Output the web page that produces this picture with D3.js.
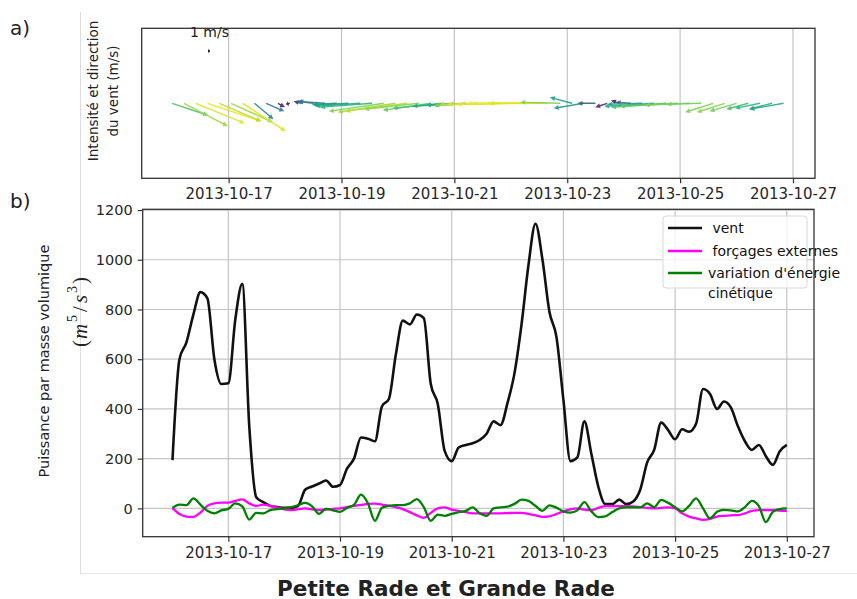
<!DOCTYPE html>
<html>
<head>
<meta charset="utf-8">
<script src="https://cdn.jsdelivr.net/npm/d3@7"></script>
<style>
  body { margin: 0; background: #fff; }
  svg { font-family: "DejaVu Sans", sans-serif; }
</style>
</head>
<body>
<div id="chart"></div>
<script>
// ---- data ----
// wind arrows: one every 5 h from 2013-10-16 00:00
const windStart = new Date(2013, 9, 16, 0, 0);
const windStepHours = 5;
const windU = [18, 22, 24.5, 27, 21, 21, 21.5, 9.5, 9, 3.5, -2, -4, -7.5, -14, -12.5, -17.5, -22.5, -26, -27.5, -29, -31, -27.5,
  -24, -25, -21, -20, -22.5, -27.5, -31, -33, -34, -35, -30, -20, -11, -15, -9, -6, -4, -7.5, -17.5, -25, -27.5, -29, -22.5,
  -17.5, -14, -14, -13.5, -11, -12.5, -11.5, -17];
const windV = [-6, -11.5, -10, -9, -9, -9.5, -14, -8, -4, -2, -0.5, 1, 1, 1, -0.5, -1, -1.5, -2, -4, -4.5, -4, -3, -3.5, -2.5,
  -1.5, -1, -1, -1, -0.5, -0.5, -0.5, 0, 0, 0.5, 3, -2.5, 0, -2, 1.5, 0.5, -0.5, -1.5, -2, -1.5, -1, -0.5, -4.5, -4.5, -4,
  -3, -2.5, -3, -3];
const windSpeed = [8.6, 10.2, 11.4, 11.6, 10.8, 10.2, 11.4, 5.4, 4.6, 1.2, 0.6, 1.4, 4.2, 5.4, 6.0, 6.6, 7.2, 7.8, 9.6, 10.2,
  10.6, 9.8, 9.0, 8.4, 7.2, 7.2, 8.2, 9.6, 10.8, 11.4, 11.6, 11.9, 11.4, 9.6, 6.6, 6.6, 3.6, 1.4, 1.0, 3.6, 6.6, 7.4, 8.4,
  9.0, 9.6, 9.4, 9.6, 9.8, 9.4, 8.4, 7.8, 7.4, 7.2];

// power series: one value every 3 h from 2013-10-16 00:00
const powerStart = new Date(2013, 9, 16, 0, 0);
const powerStepHours = 3;
const vent = [194, 600, 668, 780, 870, 845, 600, 500, 503, 760, 903, 330, 45, 25, 10, 5, 2, 2, 10, 75, 88, 100, 112, 87, 94,
  160, 200, 285, 280, 270, 410, 440, 620, 755, 740, 780, 765, 500, 420, 230, 190, 245, 255, 262, 275, 300, 350, 335, 425,
  545, 740, 980, 1145, 1000, 790, 690, 436, 190, 205, 350, 220, 87, 17, 17, 35, 17, 28, 75, 185, 235, 345, 315, 278, 318,
  308, 340, 480, 460, 400, 430, 405, 330, 270, 235, 255, 210, 175, 230, 255];
const forcages = [2, -23, -33, -34, -17, 10, 20, 23, 23, 30, 36, 20, 10, 15, 10, 3, -4, -7, -3, 0, -4, -7, -5, -2, 0, 5, 10,
  14, 18, 19, 15, 11, 5, -3, -15, -28, -38, -18, 0, 4, -5, -10, -15, -20, -20, -20, -20, -20, -19, -18, -18, -22, -28, -34,
  -32, -23, -12, -4, 0, -5, -7, 2, 9, 9, 9, 9, 8, 5, 2, 0, 2, 4, 0, -20, -33, -40, -46, -42, -33, -30, -28, -27, -20, -10,
  -7, -7, -7, -9, -10];
const variationEc = [2, 15, 13, 40, 15, -10, -20, -8, -2, 20, 8, -45, -18, -20, -7, -3, 0, 5, 13, 22, 8, -22, -2, -8, -14, 2,
  14, 55, 20, -50, 2, 10, 13, 13, 20, 37, 5, -50, -25, -30, -22, -15, -10, 4, -20, -30, 0, 4, 7, 18, 35, 30, 10, -10, 12, 3,
  -12, -17, -8, 25, -12, -35, -32, -15, 0, 4, 4, 4, 20, 5, 34, 22, 5, -12, 10, 40, 0, -40, -14, -6, -8, -12, 5, 30, 9, -55,
  -14, -3, 0];

const yTicks = [0, 200, 400, 600, 800, 1000, 1200];
const legendLabels = ["\u00a0vent", "\u00a0forçages externes", ["variation d'énergie", "cinétique"]];
const seriesColors = ["#111111", "#ff00ff", "#008000"];

// ---- layout ----
const W = 857, H = 599;
const topBox = { left: 141.7, right: 815, top: 28.3, bottom: 178.3 };
const botBox = { left: 142.7, right: 814, top: 209.3, bottom: 536.7 };
const fmt = d3.timeFormat("%Y-%m-%d");

const svg = d3.select("#chart").append("svg").attr("width", W).attr("height", H);

// faint figure border lines
svg.append("line").attr("x1", 80.5).attr("x2", 80.5).attr("y1", 12).attr("y2", 573)
  .attr("stroke", "#dddddd").attr("stroke-width", 1);
svg.append("line").attr("x1", 80).attr("x2", W).attr("y1", 573.5).attr("y2", 573.5)
  .attr("stroke", "#e6e6e6").attr("stroke-width", 1);

// ================= panel a) : wind arrows =================
const xTop = d3.scaleTime()
  .domain([new Date(2013, 9, 15, 11, 2), new Date(2013, 9, 27, 9, 22)])
  .range([topBox.left, topBox.right]);
const yTop = d3.scaleLinear().domain([-1, 1]).range([topBox.bottom, topBox.top]);
const arrowLen = d3.scaleLinear().domain([0, 1]).range([0, 2]); // px per m/s
const speedColor = d3.scaleSequential(d3.interpolateViridis).domain([0, 12]);

const dayTicks = d3.timeDay.every(2);

const gTop = svg.append("g");
gTop.selectAll("line.grid").data(xTop.ticks(dayTicks)).enter().append("line")
  .attr("class", "grid")
  .attr("x1", d => xTop(d)).attr("x2", d => xTop(d))
  .attr("y1", topBox.top).attr("y2", topBox.bottom)
  .attr("stroke", "#c4c4c4").attr("stroke-width", 1.2);

function arrowPath(x0, y0, dx, dy) {
  const L = Math.hypot(dx, dy);
  if (L < 0.01) return "";
  const ux = dx / L, uy = dy / L, nx = -uy, ny = ux;
  const hw = 0.7, hh = 2.4;
  const hl = Math.min(5, L * 0.7);
  const x1 = x0 + dx, y1 = y0 + dy;
  const bx = x1 - ux * hl, by = y1 - uy * hl;
  const pts = [
    [x0 + nx * hw, y0 + ny * hw], [bx + nx * hw, by + ny * hw], [bx + nx * hh, by + ny * hh],
    [x1, y1], [bx - nx * hh, by - ny * hh], [bx - nx * hw, by - ny * hw], [x0 - nx * hw, y0 - ny * hw]
  ];
  return "M" + pts.map(p => p[0].toFixed(2) + "," + p[1].toFixed(2)).join("L") + "Z";
}

const windData = windU.map((u, i) => ({
  t: d3.timeHour.offset(windStart, i * windStepHours), u: u, v: windV[i], s: windSpeed[i]
}));

gTop.selectAll("path.arrow").data(windData).enter().append("path")
  .attr("class", "arrow")
  .attr("d", d => arrowPath(xTop(d.t), yTop(0),
    Math.sign(d.u) * arrowLen(Math.abs(d.u)), -Math.sign(d.v) * arrowLen(Math.abs(d.v))))
  .attr("fill", d => speedColor(d.s))
  .attr("opacity", 0.9);

// key arrow
gTop.append("path")
  .attr("d", arrowPath(208, 51, arrowLen(1), 0))
  .attr("fill", "#000");
gTop.append("text").attr("x", 209.5).attr("y", 32).attr("text-anchor", "middle")
  .attr("dominant-baseline", "central").attr("font-size", 14).attr("fill", "#222").text("1 m/s");

gTop.append("rect")
  .attr("x", topBox.left).attr("y", topBox.top)
  .attr("width", topBox.right - topBox.left).attr("height", topBox.bottom - topBox.top)
  .attr("fill", "none").attr("stroke", "#333").attr("stroke-width", 1.3);

const axTop = gTop.append("g")
  .attr("transform", `translate(0,${topBox.bottom})`)
  .call(d3.axisBottom(xTop).ticks(dayTicks).tickFormat(fmt).tickSize(5).tickPadding(5));
axTop.select(".domain").remove();
axTop.selectAll(".tick line").attr("stroke", "#333").attr("stroke-width", 1.2);
axTop.selectAll(".tick text").attr("font-size", 15).attr("fill", "#262626")
  .attr("font-family", "DejaVu Sans");

gTop.append("text")
  .attr("transform", "translate(93,91) rotate(-90)")
  .attr("text-anchor", "middle").attr("dominant-baseline", "central")
  .attr("font-size", 13.5).attr("fill", "#222").text("Intensité et direction");
gTop.append("text")
  .attr("transform", "translate(113,91) rotate(-90)")
  .attr("text-anchor", "middle").attr("dominant-baseline", "central")
  .attr("font-size", 13.5).attr("fill", "#222").text("du vent (m/s)");

// ================= panel b) : power =================
const xBot = d3.scaleTime()
  .domain([new Date(2013, 9, 15, 11, 12), new Date(2013, 9, 27, 11, 41)])
  .range([botBox.left, botBox.right]);
const yBot = d3.scaleLinear().domain([-114, 1203]).range([botBox.bottom, botBox.top]);

const gBot = svg.append("g");
gBot.selectAll("line.vgrid").data(xBot.ticks(dayTicks)).enter().append("line")
  .attr("class", "vgrid")
  .attr("x1", d => xBot(d)).attr("x2", d => xBot(d))
  .attr("y1", botBox.top).attr("y2", botBox.bottom)
  .attr("stroke", "#c4c4c4").attr("stroke-width", 1.2);
gBot.selectAll("line.hgrid").data(yTicks).enter().append("line")
  .attr("class", "hgrid")
  .attr("x1", botBox.left).attr("x2", botBox.right)
  .attr("y1", d => yBot(d)).attr("y2", d => yBot(d))
  .attr("stroke", "#c4c4c4").attr("stroke-width", 1.2);

const times = vent.map((v, i) => d3.timeHour.offset(powerStart, i * powerStepHours));
const series = [vent, forcages, variationEc];
const line = d3.line()
  .x((d, i) => xBot(times[i]))
  .y(d => yBot(d))
  .curve(d3.curveMonotoneX);

series.forEach((s, k) => {
  gBot.append("path")
    .datum(s)
    .attr("d", line)
    .attr("fill", "none")
    .attr("stroke", seriesColors[k])
    .attr("stroke-width", k === 0 ? 2.6 : 2.3)
    .attr("stroke-linejoin", "round");
});

gBot.append("rect")
  .attr("x", botBox.left).attr("y", botBox.top)
  .attr("width", botBox.right - botBox.left).attr("height", botBox.bottom - botBox.top)
  .attr("fill", "none").attr("stroke", "#333").attr("stroke-width", 1.3);

const axBotX = gBot.append("g")
  .attr("transform", `translate(0,${botBox.bottom})`)
  .call(d3.axisBottom(xBot).ticks(dayTicks).tickFormat(fmt).tickSize(5).tickPadding(6));
axBotX.select(".domain").remove();
axBotX.selectAll(".tick line").attr("stroke", "#333").attr("stroke-width", 1.2);
axBotX.selectAll(".tick text").attr("font-size", 15).attr("fill", "#262626")
  .attr("font-family", "DejaVu Sans");

const axBotY = gBot.append("g")
  .attr("transform", `translate(${botBox.left},0)`)
  .call(d3.axisLeft(yBot).tickValues(yTicks).tickFormat(d3.format("d")).tickSize(5).tickPadding(5));
axBotY.select(".domain").remove();
axBotY.selectAll(".tick line").attr("stroke", "#333").attr("stroke-width", 1.2);
axBotY.selectAll(".tick text").attr("font-size", 14.5).attr("fill", "#262626")
  .attr("font-family", "DejaVu Sans");

// legend
const lg = gBot.append("g");
lg.append("rect").attr("x", 663).attr("y", 216).attr("width", 144).attr("height", 72)
  .attr("rx", 3).attr("fill", "#fff").attr("fill-opacity", 0.8)
  .attr("stroke", "#d8d8d8").attr("stroke-width", 1);
const legendY = [228, 251, 273];
legendLabels.forEach((lab, k) => {
  lg.append("line").attr("x1", 668).attr("x2", 702)
    .attr("y1", legendY[k]).attr("y2", legendY[k])
    .attr("stroke", seriesColors[k]).attr("stroke-width", 2.4);
  const lines = Array.isArray(lab) ? lab : [lab];
  lines.forEach((t, j) => {
    lg.append("text").attr("x", 708).attr("y", legendY[k] + j * 20)
      .attr("dominant-baseline", "central").attr("font-size", 14).attr("fill", "#111")
      .text(t);
  });
});

// y label
gBot.append("text")
  .attr("transform", "translate(44,361) rotate(-90)")
  .attr("text-anchor", "middle").attr("dominant-baseline", "central")
  .attr("font-size", 14.5).attr("fill", "#222").text("Puissance par masse volumique");
const mathLab = gBot.append("text")
  .attr("transform", "translate(80,312) rotate(-90)")
  .attr("text-anchor", "middle").attr("dominant-baseline", "central")
  .attr("fill", "#222")
  .style("font-family", "'Liberation Serif', 'DejaVu Serif', serif")
  .style("font-size", "21px");
mathLab.append("tspan").text("(");
mathLab.append("tspan").attr("dx", 1).style("font-style", "italic").text("m");
mathLab.append("tspan").attr("dx", 2).attr("dy", -8).style("font-size", "14px").text("5");
mathLab.append("tspan").attr("dx", 3).attr("dy", 8).text("/");
mathLab.append("tspan").attr("dx", 3).style("font-style", "italic").text("s");
mathLab.append("tspan").attr("dx", 2).attr("dy", -8).style("font-size", "14px").text("3");
mathLab.append("tspan").attr("dx", 2).attr("dy", 8).text(")");

// panel letters and title
svg.append("text").attr("x", 10).attr("y", 28).attr("dominant-baseline", "central")
  .attr("font-size", 20).attr("fill", "#222").text("a)");
svg.append("text").attr("x", 10).attr("y", 201).attr("dominant-baseline", "central")
  .attr("font-size", 20).attr("fill", "#222").text("b)");
svg.append("text").attr("x", 446).attr("y", 588).attr("text-anchor", "middle")
  .attr("dominant-baseline", "central").attr("font-size", 21.5).attr("font-weight", "bold")
  .attr("fill", "#222").text("Petite Rade et Grande Rade");
</script>
</body>
</html>
